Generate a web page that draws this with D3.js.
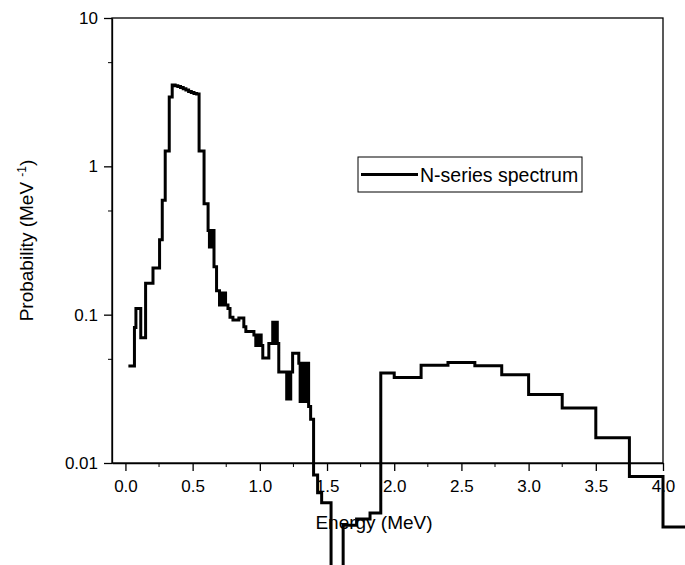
<!DOCTYPE html>
<html>
<head>
<meta charset="utf-8">
<script src="https://cdn.jsdelivr.net/npm/d3@7"></script>
<style>
  body { margin: 0; background: #fff; }
  text { font-family: Arial, "Liberation Sans", sans-serif; fill: #000; }
</style>
</head>
<body>
<div id="chart"></div>
<script>
// left edge of each step (MeV) and the probability over that step
var energy = [0.022, 0.067, 0.078, 0.114, 0.15, 0.205, 0.254, 0.274, 0.296, 0.326,
  0.348, 0.37, 0.39, 0.41, 0.43, 0.45, 0.47, 0.49, 0.51, 0.53,
  0.548, 0.585, 0.615, 0.625, 0.632, 0.64, 0.647, 0.659, 0.678,
  0.70, 0.71, 0.72, 0.735, 0.745, 0.763, 0.778, 0.80, 0.844, 0.881, 0.896,
  0.956, 0.97, 0.98, 0.99, 1.0, 1.01, 1.022, 1.067, 1.096, 1.11, 1.12, 1.13, 1.141,
  1.2, 1.21, 1.22, 1.23, 1.244, 1.29, 1.30, 1.31, 1.32, 1.335, 1.345, 1.355,
  1.363, 1.378, 1.40, 1.43, 1.46, 1.53, 1.62, 1.72, 1.82,
  1.9, 2.0, 2.2, 2.4, 2.6, 2.8, 3.0, 3.25, 3.5, 3.75, 4.0];
var probability = [0.045, 0.082, 0.11, 0.07, 0.163, 0.206, 0.32, 0.59, 1.27, 2.93,
  3.53, 3.5, 3.45, 3.4, 3.33, 3.27, 3.2, 3.15, 3.1, 3.07,
  1.27, 0.56, 0.37, 0.286, 0.37, 0.286, 0.37, 0.21, 0.145,
  0.116, 0.14, 0.116, 0.14, 0.116, 0.11, 0.096, 0.092, 0.095, 0.083, 0.077,
  0.073, 0.062, 0.073, 0.062, 0.073, 0.062, 0.051, 0.064, 0.089, 0.064, 0.089, 0.064, 0.041,
  0.027, 0.041, 0.027, 0.041, 0.055, 0.047, 0.026, 0.047, 0.026, 0.047, 0.026, 0.047,
  0.024, 0.0197, 0.0083, 0.0063, 0.0054, 0.001, 0.0038, 0.0042, 0.0046,
  0.0404, 0.0377, 0.0456, 0.0475, 0.0453, 0.0393, 0.029, 0.0235, 0.0148, 0.0081, 0.0037];
var lastEdge = 4.3;

var xTicks = [0, 0.5, 1.0, 1.5, 2.0, 2.5, 3.0, 3.5, 4.0];
var xMinorTicks = [0.25, 0.75, 1.25, 1.75, 2.25, 2.75, 3.25, 3.75];
var yTicks = [0.01, 0.1, 1, 10];
var yTickLabels = ["0.01", "0.1", "1", "10"];
var yMinorTicks = [0.05, 0.5, 5];

var W = 685, H = 565;
var frame = {left: 112, right: 663, top: 18, bottom: 463};

var svg = d3.select("#chart").append("svg")
  .attr("width", W)
  .attr("height", H)
  .style("overflow", "hidden");

var x = d3.scaleLinear().domain([-0.1, 4.0]).range([frame.left, frame.right]);
var y = d3.scaleLog().domain([0.01, 10]).range([frame.bottom, frame.top]);

// bottom axis, outward ticks
var xAxis = svg.append("g")
  .attr("transform", `translate(0,${frame.bottom})`)
  .call(d3.axisBottom(x).tickValues(xTicks).tickSize(8).tickSizeOuter(0)
    .tickFormat(d3.format(".1f")));
xAxis.selectAll(".tick text").attr("font-size", 17).attr("dy", "0.9em").attr("y", 14);
xAxis.append("g").selectAll("line")
  .data(xMinorTicks)
  .join("line")
    .attr("x1", d => x(d)).attr("x2", d => x(d))
    .attr("y1", 0).attr("y2", 4)
    .attr("stroke", "#000");

// left axis
var yAxis = svg.append("g")
  .attr("transform", `translate(${frame.left},0)`)
  .call(d3.axisLeft(y).tickValues(yTicks).tickSize(8).tickSizeOuter(0)
    .tickFormat((d, i) => yTickLabels[i]));
yAxis.selectAll(".tick text").attr("font-size", 17).attr("x", -14);
yAxis.append("g").selectAll("line")
  .data(yMinorTicks)
  .join("line")
    .attr("y1", d => y(d)).attr("y2", d => y(d))
    .attr("x1", 0).attr("x2", -4)
    .attr("stroke", "#000");

svg.selectAll(".domain, .tick line").attr("stroke", "#000").attr("stroke-width", 1.3);

// frame box
svg.append("rect")
  .attr("x", frame.left).attr("y", frame.top)
  .attr("width", frame.right - frame.left)
  .attr("height", frame.bottom - frame.top)
  .attr("fill", "none")
  .attr("stroke", "#000")
  .attr("stroke-width", 1.3);

// axis titles
svg.append("text")
  .attr("x", 374)
  .attr("y", 529)
  .attr("text-anchor", "middle")
  .attr("font-size", 19)
  .text("Energy (MeV)");

var yl = svg.append("text")
  .attr("transform", `translate(33,${(frame.top + frame.bottom) / 2}) rotate(-90)`)
  .attr("text-anchor", "middle")
  .attr("font-size", 19);
yl.append("tspan").text("Probability (MeV ");
yl.append("tspan").attr("font-size", 12).attr("baseline-shift", "super").text("-1");
yl.append("tspan").text(")");

// legend
var leg = svg.append("g").attr("transform", "translate(358,157)");
leg.append("rect")
  .attr("width", 224).attr("height", 35)
  .attr("fill", "#fff").attr("stroke", "#000").attr("stroke-width", 1);
leg.append("line")
  .attr("x1", 3).attr("x2", 60).attr("y1", 17.5).attr("y2", 17.5)
  .attr("stroke", "#000").attr("stroke-width", 3);
leg.append("text")
  .attr("x", 62).attr("y", 24.5)
  .attr("font-size", 19.5)
  .text("N-series spectrum");

// spectrum as steps
var pts = energy.map((e, i) => [e, probability[i]]);
pts.push([lastEdge, probability[probability.length - 1]]);

var line = d3.line()
  .x(d => x(d[0]))
  .y(d => y(d[1]))
  .curve(d3.curveStepAfter);

svg.append("path")
  .datum(pts)
  .attr("d", line)
  .attr("fill", "none")
  .attr("stroke", "#000")
  .attr("stroke-width", 3)
  .attr("stroke-linejoin", "miter");
</script>
</body>
</html>
